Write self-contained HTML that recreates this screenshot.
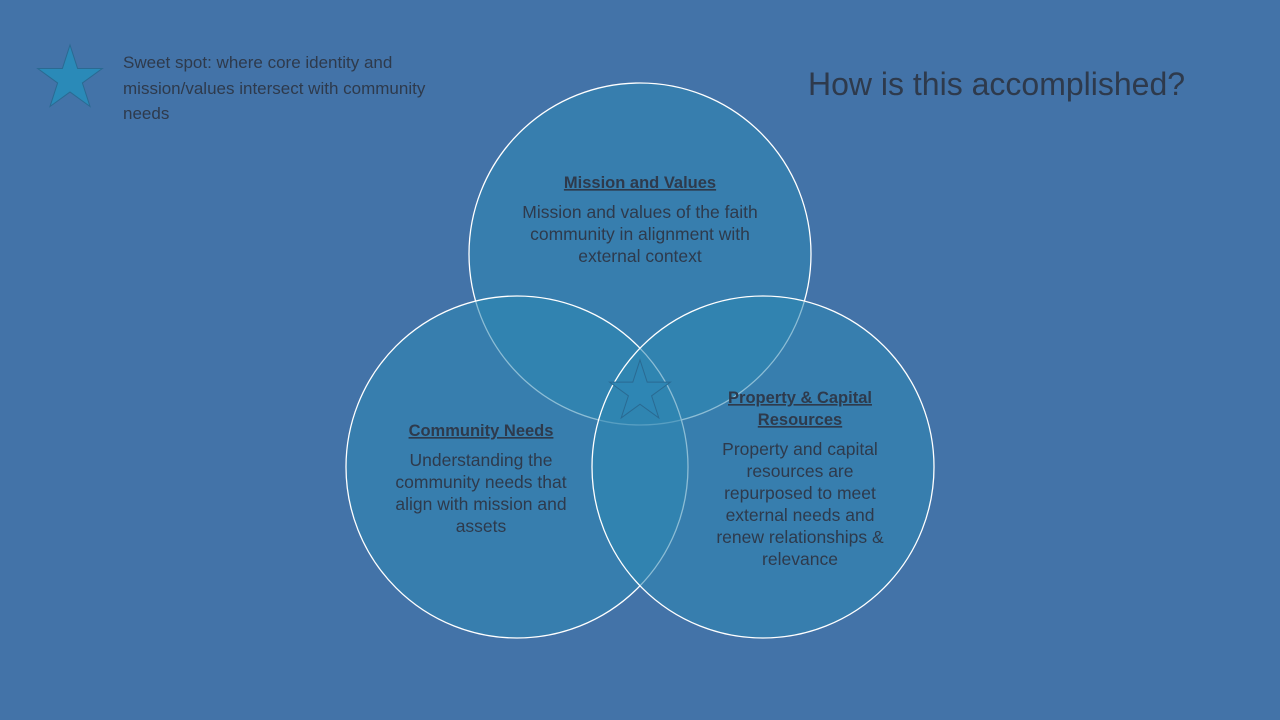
<!DOCTYPE html>
<html><head><meta charset="utf-8"><style>
body{margin:0;width:1280px;height:720px;background:#4373a8;overflow:hidden;font-family:"Liberation Sans",sans-serif}
svg{position:absolute;left:0;top:0}
</style></head><body>
<svg width="1280" height="720" viewBox="0 0 1280 720">
<g fill="#2d86b2" fill-opacity="0.55" stroke="#ffffff" stroke-width="1.3">
<circle cx="640" cy="254" r="171"/>
<circle cx="517" cy="467" r="171"/>
<circle cx="763" cy="467" r="171"/>
</g>
<polygon points="70,45 77.6,68.5 102.3,68.5 82.4,83 90,106.5 70,92 50,106.5 57.6,83 37.7,68.5 62.4,68.5" fill="#2a8ab8" stroke="#2a6a92" stroke-width="1"/>
<polygon points="640,360 647.2,382.1 670.4,382.1 651.6,395.8 658.8,417.9 640,404.2 621.2,417.9 628.4,395.8 609.6,382.1 632.8,382.1" fill="#2e86b4" stroke="#2a6a92" stroke-width="1"/>
<g font-family="Liberation Sans, sans-serif" fill="#2e3a4c" font-size="17">
<text x="123" y="68">Sweet spot: where core identity and</text>
<text x="123" y="94">mission/values intersect with community</text>
<text x="123" y="119">needs</text>
<text x="808" y="95" font-size="32">How is this accomplished?</text>
<g text-anchor="middle" font-size="17.5">
<text x="640" y="188" text-decoration="underline" font-weight="bold" font-size="16.5">Mission and Values</text>
<text x="640" y="218">Mission and values of the faith</text>
<text x="640" y="240">community in alignment with</text>
<text x="640" y="262">external context</text>
<text x="481" y="436" text-decoration="underline" font-weight="bold" font-size="16.5">Community Needs</text>
<text x="481" y="466">Understanding the</text>
<text x="481" y="488">community needs that</text>
<text x="481" y="510">align with mission and</text>
<text x="481" y="532">assets</text>
<text x="800" y="403" text-decoration="underline" font-weight="bold" font-size="16.5">Property &amp; Capital</text>
<text x="800" y="425" text-decoration="underline" font-weight="bold" font-size="16.5">Resources</text>
<text x="800" y="455">Property and capital</text>
<text x="800" y="477">resources are</text>
<text x="800" y="499">repurposed to meet</text>
<text x="800" y="521">external needs and</text>
<text x="800" y="543">renew relationships &amp;</text>
<text x="800" y="565">relevance</text>
</g></g>
</svg>
</body></html>
